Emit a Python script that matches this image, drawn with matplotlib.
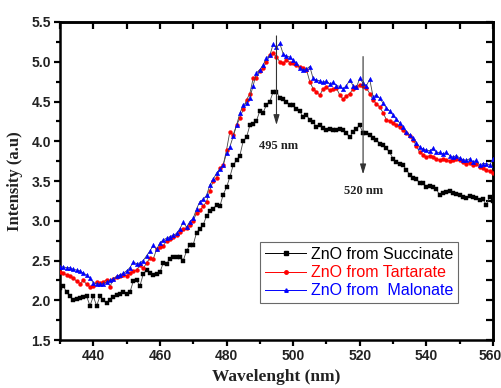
import matplotlib
matplotlib.use("Agg")
import matplotlib.pyplot as plt
from matplotlib.lines import Line2D
from matplotlib.ticker import MultipleLocator, FormatStrFormatter
import matplotlib.transforms as mtransforms

wavelength = list(range(430, 561))

succinate = [
    2.15, 2.18, 2.10, 2.05, 2.00, 2.02, 2.03, 2.04, 2.05, 1.93,
    2.05, 1.93, 2.05, 2.00, 1.96, 2.00, 2.04, 2.06, 2.08, 2.11,
    2.08, 2.10, 2.24, 2.25, 2.18, 2.33, 2.38, 2.34, 2.32, 2.33,
    2.35, 2.47, 2.46, 2.52, 2.54, 2.55, 2.55, 2.50, 2.62, 2.70,
    2.70, 2.85, 2.90, 2.95, 3.06, 3.12, 3.15, 3.20, 3.18, 3.33,
    3.42, 3.55, 3.70, 3.76, 3.82, 4.00, 4.05, 4.20, 4.22, 4.26,
    4.38, 4.36, 4.46, 4.50, 4.62, 4.62, 4.55, 4.53, 4.49, 4.46,
    4.45, 4.40, 4.38, 4.30, 4.33, 4.27, 4.24, 4.18, 4.20, 4.17,
    4.14, 4.15, 4.14, 4.14, 4.15, 4.14, 4.10, 4.05, 4.12, 4.16,
    4.20, 4.10, 4.10, 4.08, 4.04, 4.02, 3.97, 3.95, 3.91, 3.86,
    3.78, 3.74, 3.72, 3.70, 3.64, 3.58, 3.54, 3.52, 3.48, 3.47,
    3.43, 3.44, 3.42, 3.40, 3.32, 3.35, 3.36, 3.37, 3.35, 3.34,
    3.32, 3.30, 3.28, 3.31, 3.30, 3.28, 3.26, 3.27, 3.20, 3.30,
    3.25,
]

tartarate = [
    2.36, 2.34, 2.32, 2.30, 2.28, 2.24, 2.21, 2.25, 2.20, 2.17,
    2.18, 2.23, 2.22, 2.23, 2.26, 2.17, 2.27, 2.29, 2.30, 2.32,
    2.31, 2.34, 2.37, 2.38, 2.44, 2.40, 2.47, 2.53, 2.52, 2.64,
    2.67, 2.68, 2.75, 2.77, 2.79, 2.82, 2.86, 2.90, 2.91, 2.95,
    3.00, 3.10, 3.13, 3.18, 3.24, 3.38, 3.50, 3.54, 3.66, 3.70,
    3.89, 4.12, 4.08, 4.20, 4.29, 4.40, 4.52, 4.60, 4.79, 4.80,
    4.88, 4.92, 5.00, 5.08, 5.11, 5.06, 5.00, 4.98, 5.02, 4.99,
    4.98, 4.96, 4.93, 4.92, 4.90, 4.75, 4.66, 4.62, 4.58, 4.66,
    4.68, 4.64, 4.66, 4.67, 4.58, 4.53, 4.57, 4.60, 4.66, 4.68,
    4.71, 4.69, 4.67, 4.60, 4.52, 4.47, 4.43, 4.36, 4.27, 4.25,
    4.23, 4.20, 4.18, 4.14, 4.10, 4.06, 4.02, 3.94, 3.86, 3.83,
    3.80, 3.82, 3.80, 3.78, 3.76, 3.78, 3.76, 3.75, 3.76, 3.78,
    3.76, 3.74, 3.72, 3.73, 3.70, 3.71, 3.68, 3.66, 3.64, 3.62,
    3.60,
]

malonate = [
    2.42, 2.42, 2.41, 2.41, 2.39, 2.38, 2.37, 2.34, 2.32, 2.28,
    2.22, 2.21, 2.20, 2.21, 2.23, 2.25, 2.27, 2.30, 2.32, 2.34,
    2.37, 2.41, 2.48, 2.46, 2.47, 2.50, 2.56, 2.62, 2.69, 2.64,
    2.72, 2.76, 2.78, 2.80, 2.82, 2.84, 2.90, 2.98, 2.92, 2.99,
    3.03, 3.15, 3.24, 3.27, 3.32, 3.45, 3.52, 3.60, 3.65, 3.70,
    3.85, 3.93, 4.06, 4.20, 4.35, 4.46, 4.48, 4.55, 4.70, 4.86,
    4.90, 4.96, 5.05, 5.08, 5.22, 5.18, 5.23, 5.10, 5.07, 5.06,
    5.02, 4.98, 4.92, 4.90, 4.91, 4.94, 4.79, 4.77, 4.76, 4.74,
    4.76, 4.72, 4.74, 4.70, 4.69, 4.66, 4.70, 4.77, 4.70, 4.68,
    4.79, 4.73, 4.70, 4.78, 4.56, 4.58, 4.54, 4.48, 4.42, 4.38,
    4.33, 4.28, 4.23, 4.18, 4.12, 4.08, 4.04, 3.98, 3.93, 3.90,
    3.89, 3.88, 3.91, 3.86, 3.86, 3.84, 3.86, 3.82, 3.80, 3.82,
    3.79, 3.77, 3.76, 3.78, 3.74, 3.76, 3.70, 3.72, 3.72, 3.70,
    3.78,
]

labels = ["ZnO from Succinate", "ZnO from Tartarate", "ZnO from  Malonate"]
colors = ["black", "red", "blue"]
markers = ["s", "o", "^"]
msizes = [2.4, 2.8, 3.2]

peaks = [495, 520]
peak_labels = ["495 nm", "520 nm"]

fig = plt.figure(figsize=(5.02, 3.88), dpi=100)
ax = fig.add_axes([0.1195, 0.1237, 0.8625, 0.8196])

series = [succinate, tartarate, malonate]
for ys, c, m, ms in zip(series, colors, markers, msizes):
    ax.plot(wavelength, ys, color="#444444", lw=0.6, marker=m, ms=ms,
            mfc=c, mec=c, mew=0.3, zorder=3)

# annotation arrows
arrow_kw = dict(arrowstyle="-|>,head_length=0.6,head_width=0.18", color="#333333", lw=0.8)
ax.annotate("", xy=(peaks[0], 4.17), xytext=(peaks[0], 5.36), arrowprops=arrow_kw, zorder=4)
ax.annotate("", xy=(peaks[1] + 1, 3.55), xytext=(peaks[1] + 1, 5.1), arrowprops=arrow_kw, zorder=4)
ax.text(peaks[0] + 0.5, 3.94, peak_labels[0], ha="center", va="center",
        fontsize=9, fontweight="bold", family="Liberation Serif", color="#222222")
ax.text(peaks[1] + 1, 3.38, peak_labels[1], ha="center", va="center",
        fontsize=9, fontweight="bold", family="Liberation Serif", color="#222222")

ax.set_xlim(430, 560)
ax.set_ylim(1.5, 5.5)
ax.set_xticks([440, 460, 480, 500, 520, 540, 560])
ax.xaxis.set_minor_locator(MultipleLocator(10))
ax.yaxis.set_major_locator(MultipleLocator(0.5))
ax.yaxis.set_minor_locator(MultipleLocator(0.25))
ax.yaxis.set_major_formatter(FormatStrFormatter("%.1f"))

ax.tick_params(axis="both", which="both", direction="out", width=1.6,
               labelsize=10, pad=2)
ax.tick_params(which="major", length=4.5)
ax.tick_params(which="minor", length=3)
for lab in ax.get_xticklabels() + ax.get_yticklabels():
    lab.set_fontweight("bold")
    lab.set_family("Liberation Sans")
    lab.set_color("#222222")
# nudge last x tick label inside the figure
last = ax.get_xticklabels()[-1]
last.set_transform(last.get_transform() + mtransforms.ScaledTranslation(-3 / 100, 0, fig.dpi_scale_trans))

# top/right inward ticks
axt = ax.secondary_xaxis("top")
axt.xaxis.set_major_locator(MultipleLocator(10))
axt.tick_params(direction="in", length=5, width=1.6, labeltop=False)
axr = ax.secondary_yaxis("right")
axr.yaxis.set_major_locator(MultipleLocator(0.25))
axr.tick_params(direction="in", length=5, width=1.6, labelright=False)

for s in ax.spines.values():
    s.set_linewidth(1.8)
axt.spines["top"].set_linewidth(1.8)
axr.spines["right"].set_linewidth(1.8)

ax.set_xlabel("Wavelenght (nm)", fontsize=12.5, fontweight="bold",
              family="Liberation Serif", labelpad=4, color="#222222")
ax.set_ylabel("Intensity (a.u)", fontsize=12, fontweight="bold",
              family="Liberation Serif", labelpad=6, color="#222222")

handles = [Line2D([0], [0], color=c, lw=0.7, marker=m, ms=2.5, mfc=c, mec=c)
           for c, m in zip(colors, markers)]
leg = ax.legend(handles, labels, loc="lower left", bbox_to_anchor=(0.462, 0.116),
                frameon=True, fancybox=False, handlelength=2.6,
                handletextpad=0.3, labelspacing=0.2, borderpad=0.3,
                borderaxespad=0, prop={"family": "Liberation Sans", "size": 11.5})
leg.get_frame().set_edgecolor("#444444")
leg.get_frame().set_linewidth(0.8)
for t, c in zip(leg.get_texts(), colors):
    t.set_color(c)

fig.savefig("out.png", dpi=100, facecolor="white")
